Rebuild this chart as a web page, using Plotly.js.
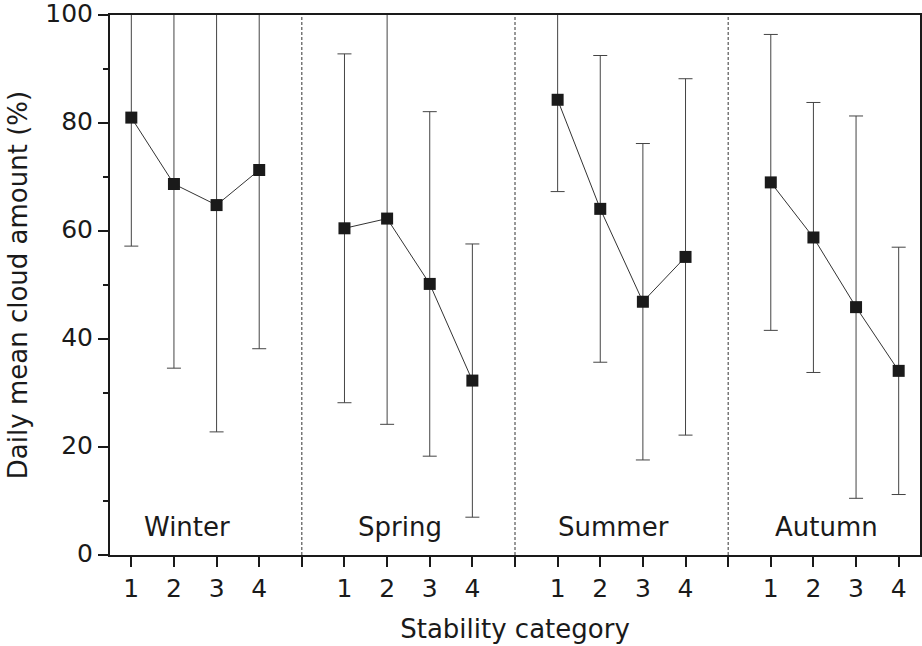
<!DOCTYPE html>
<html>
<head>
<meta charset="utf-8">
<script src="https://cdn.plot.ly/plotly-3.0.1.min.js"></script>
<style>
  html, body { margin: 0; padding: 0; background: #fff; }
  #chart { width: 922px; height: 646px; }
</style>
</head>
<body>
<div id="chart"></div>
<script>
// stability categories and seasons
const categories = ["1", "2", "3", "4"];
const seasons = ["Winter", "Spring", "Summer", "Autumn"];

// daily mean cloud amount (%) per season, categories 1-4
const winterMean = [81.0, 68.7, 64.8, 71.3];
const springMean = [60.5, 62.3, 50.2, 32.3];
const summerMean = [84.3, 64.1, 46.9, 55.2];
const autumnMean = [69.0, 58.8, 45.9, 34.1];

// standard deviations (symmetric error bars)
const winterSd = [23.8, 34.1, 42.0, 33.1];
const springSd = [32.3, 38.1, 31.9, 25.3];
const summerSd = [17.0, 28.4, 29.3, 33.0];
const autumnSd = [27.4, 25.0, 35.4, 22.9];

const means = [winterMean, springMean, summerMean, autumnMean];
const sds = [winterSd, springSd, summerSd, autumnSd];

const ink = "#1a1a1a";
const group = categories.length + 1; // one empty slot between seasons

const traces = seasons.map((name, s) => ({
    x: categories.map((_, i) => s * group + i + 1),
    y: means[s],
    name: name,
    type: "scatter",
    mode: "lines+markers",
    line: { color: "#333", width: 1 },
    marker: { symbol: "square", size: 12, color: ink },
    error_y: {
        type: "data",
        array: sds[s],
        visible: true,
        color: "#444",
        thickness: 1,
        width: 7,
    },
    hovertemplate: name + " %{text}: %{y:.1f}%<extra></extra>",
    text: categories,
}));

// tick positions: categories plus unlabeled ticks at season boundaries
const tickvals = [];
const ticktext = [];
seasons.forEach((_, s) => {
    categories.forEach((c, i) => {
        tickvals.push(s * group + i + 1);
        ticktext.push(c);
    });
    if (s < seasons.length - 1) {
        tickvals.push((s + 1) * group);
        ticktext.push("");
    }
});

const separators = seasons.slice(1).map((_, s) => ({
    type: "line",
    xref: "x",
    yref: "paper",
    x0: (s + 1) * group,
    x1: (s + 1) * group,
    y0: 0,
    y1: 1,
    line: { color: "#333", width: 1, dash: "3px,2px" },
    layer: "below",
}));

const seasonLabels = seasons.map((name, s) => ({
    text: name,
    x: s * group + 2.3,
    y: 5.2,
    xref: "x",
    yref: "y",
    showarrow: false,
    font: { size: 26, color: ink },
}));

const layout = {
    width: 922,
    height: 646,
    paper_bgcolor: "#fff",
    plot_bgcolor: "#fff",
    font: { family: "DejaVu Sans", color: ink, size: 25 },
    showlegend: false,
    margin: { l: 110, r: 2, t: 15, b: 91 },
    xaxis: {
        range: [0.5, seasons.length * group - 0.5],
        tickvals: tickvals,
        ticktext: ticktext,
        ticks: "outside",
        ticklen: 10,
        tickwidth: 2,
        tickcolor: ink,
        showline: true,
        linewidth: 2,
        linecolor: ink,
        mirror: true,
        showgrid: false,
        zeroline: false,
        tickfont: { size: 25 },
        title: { text: "Stability category", font: { size: 26 }, standoff: 18 },
    },
    yaxis: {
        range: [0, 100],
        dtick: 20,
        ticks: "outside",
        ticklen: 10,
        tickwidth: 2,
        tickcolor: ink,
        ticklabeloverflow: "allow",
        ticklabelshift: -2,
        minor: { dtick: 10, ticks: "outside", ticklen: 5, tickwidth: 2, tickcolor: ink },
        showline: true,
        linewidth: 2,
        linecolor: ink,
        mirror: true,
        showgrid: false,
        zeroline: false,
        tickfont: { size: 25 },
        title: { text: "Daily mean cloud amount (%)", font: { size: 26 }, standoff: 10 },
    },
    shapes: separators,
    annotations: seasonLabels,
};

Plotly.newPlot("chart", traces, layout, { displayModeBar: false, responsive: false });
</script>
</body>
</html>
